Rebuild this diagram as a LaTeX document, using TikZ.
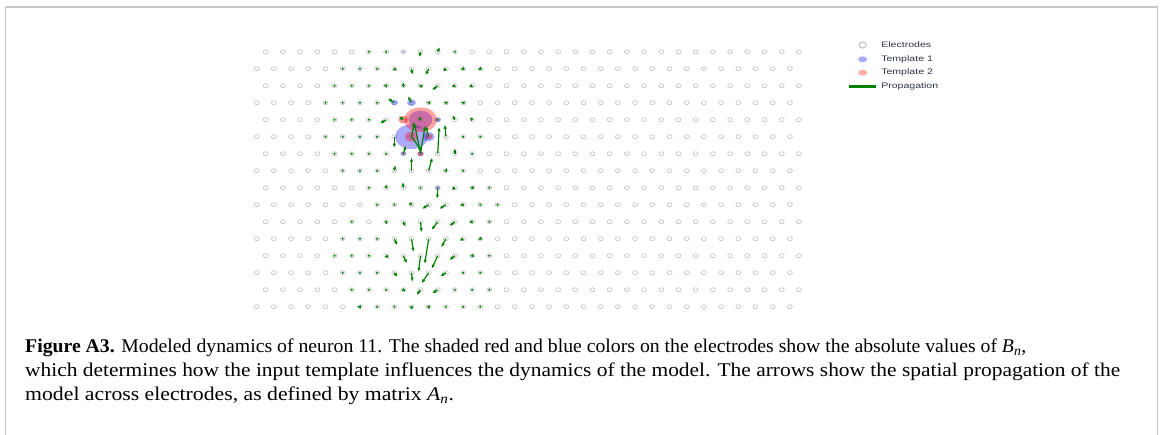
\documentclass[tikz,border=0pt]{standalone}
\usepackage{fontspec}
\setmainfont{Liberation Serif}
\newfontfamily\legendfont{Liberation Sans}
\usepackage{tikz}
\usetikzlibrary{arrows.meta}
\definecolor{propgreen}{HTML}{008000}
\definecolor{tplblue}{HTML}{0000FF}
\definecolor{tplred}{HTML}{FF0000}
\definecolor{elgray}{HTML}{C0C0C0}
\definecolor{framegray}{HTML}{C8C8C8}
\definecolor{legendtext}{HTML}{30324A}
\newcommand{\capsize}{\fontsize{19.4}{24}\selectfont}

\begin{document}
\begin{tikzpicture}[x=1pt, y=-1pt,
  electrode/.style={draw=elgray, line width=0.6pt},
  prop/.style={propgreen, line width=1.2pt, -{Latex[length=4pt,width=3.4pt]}},
  legtext/.style={anchor=west, inner sep=0pt, text=legendtext, xscale=1.32,
    font=\legendfont\fontsize{8}{9.6}\selectfont},
  captext/.style={anchor=base west, inner sep=0pt, font=\capsize}]
\useasboundingbox (0,0) rectangle (1166,435);
\draw[framegray, line width=1.5pt] (5.5,435) -- (5.5,7.2) -- (1157.5,7.2) -- (1157.5,435);

% electrode array
\foreach \r in {0,...,15}
  \foreach \c in {0,...,31} {
    \pgfmathsetmacro\ex{256.7+17.2*\c+9*(1-mod(\r,2))}
    \pgfmathsetmacro\ey{51.7+17*\r}
    \coordinate (e-\r-\c) at (\ex,\ey);
    \draw[electrode] (e-\r-\c) ellipse [x radius=2.5, y radius=2];
  }

% |B_n| shading
\foreach \r/\c/\s in {0/8/1.3, 3/8/2.7, 3/9/3.4, 4/9/9, 4/10/2.4, 5/9/12.3,
    5/10/4.5, 6/8/2, 6/9/2.2, 8/10/1.8} {
  \pgfmathsetmacro\sx{1.33*\s}
  \fill[tplblue, opacity=0.33] (e-\r-\c) ellipse [x radius=\sx, y radius=\s];
}
\foreach \r/\c/\s in {4/9/12.3, 4/8/3.9, 5/9/5, 5/10/2.7, 6/9/2.4, 6/8/1.3} {
  \pgfmathsetmacro\sx{1.33*\s}
  \fill[tplred, opacity=0.36] (e-\r-\c) ellipse [x radius=\sx, y radius=\s];
}

% propagation A_n
\foreach \r/\c in {0/6, 0/7, 0/11, 1/5, 1/6, 1/7, 2/4, 2/5, 2/6, 3/4, 3/5, 3/6,
    3/7, 4/4, 4/5, 4/6, 4/10, 5/4, 5/5, 5/6, 5/7, 5/12, 5/13, 6/4, 6/5, 6/6,
    6/7, 6/12, 7/5, 7/6, 7/7, 7/12, 8/6, 8/9, 8/13, 9/7, 9/8, 9/13, 9/14, 10/5,
    10/13, 11/5, 11/6, 11/7, 12/4, 12/5, 12/6, 12/13, 13/5, 13/6, 13/7, 13/12,
    13/13, 14/5, 14/6, 14/7, 14/11, 14/12, 14/13, 15/7, 15/8, 15/11, 15/12, 15/13}
  \fill[propgreen] (e-\r-\c) circle (1.2);
\foreach \r/\c/\dx/\dy in {0/9/-1/5.5, 0/10/2/-4.5,
    1/8/2.5/2.5, 1/9/1/6, 1/10/-3/6.5, 1/11/-3/3, 1/12/-2.5/1.4, 1/13/-2.5/1.4,
    2/7/-3/-0.5, 2/8/0/-3.5, 2/9/-2/-1, 2/10/-5.5/4.5, 2/11/-3.5/1, 2/12/-3.5/1.5,
    3/8/-6.5/-4.2, 3/9/-3.5/-6.5, 3/10/-2.5/0, 3/11/-2.5/-0.5, 3/12/-2.5/-0.5,
    4/7/-6/3.7, 4/8/-4.5/-3.2, 4/9/-2/-3.5, 4/11/-2.5/-4.5, 4/12/-2.5/-2.5,
    5/8/0/11, 5/9/3/-15, 5/9/10/14, 5/10/-3/-11, 5/11/-1/-12,
    6/8/2.7/-8, 6/9/-6/-30, 6/9/4.5/-27.5, 6/10/1.5/-26.5, 6/11/0/-5.5,
    7/8/1/-5.5, 7/9/0/-13, 7/10/3.5/-13, 7/11/1.2/-3,
    8/7/0.7/-3.5, 8/8/-0.5/-5.5, 8/10/-0.5/11, 8/11/-3.5/2.3, 8/12/-2.5/0.5,
    9/9/1.3/1.3, 9/10/-6.5/4.2, 9/11/-6.5/4.2, 9/12/-3.5/0.5,
    10/7/1.2/3, 10/8/2.2/5, 10/9/1/10.5, 10/10/-6/8, 10/11/-5.5/4.3, 10/12/-3.5/0.5,
    11/8/3/6.5, 11/9/2/13, 11/10/-4/25, 11/11/-4.5/8.5, 11/12/-3.5/2.2, 11/13/-2.5/1.2,
    12/7/2.8/2.8, 12/8/3.5/7.5, 12/9/-2/16, 12/10/-6/13, 12/11/-5.5/4.3, 12/12/-2.5/0.5,
    13/8/3.2/4.3, 13/9/1/9, 13/10/-7/10.5, 13/11/-5.5/3.7,
    14/8/2.3/2.3, 14/9/-3.8/5.3, 14/10/-5.5/3.7,
    15/6/-3/0, 15/9/0.5/3.5, 15/10/0.5/3}
  \draw[prop] (e-\r-\c) -- ++(\dx,\dy);

% legend
\draw[elgray, line width=1pt] (862.7,45) ellipse [x radius=3.6, y radius=3.1];
\fill[tplblue, opacity=0.33] (862.7,59.3) ellipse [x radius=4.5, y radius=3];
\fill[tplred, opacity=0.33] (862.7,72.7) ellipse [x radius=4.5, y radius=3];
\draw[propgreen, line width=3pt] (849.3,86.7) -- (876,86.7);
\node[legtext] (leg-el) at (881,45) {Electrodes};
\node[legtext] (leg-t1) at (881,59.3) {Template 1};
\node[legtext] (leg-t2) at (881,72.7) {Template 2};
\node[legtext] (leg-pr) at (881,86.7) {Propagation};

% caption
\node[captext, xscale=1.018] (cap1) at (25,352) {\textbf{Figure A3.} Modeled dynamics of neuron 11. The shaded red and blue colors on the electrodes show the absolute values of \textit{B}\textsubscript{\textit{n}},};
\node[captext, xscale=1.104] (cap2) at (25,376) {which determines how the input template influences the dynamics of the model. The arrows show the spatial propagation of the};
\node[captext, xscale=1.12] (cap3) at (25,400) {model across electrodes, as defined by matrix \textit{A}\textsubscript{\textit{n}}.};
\end{tikzpicture}
\end{document}
